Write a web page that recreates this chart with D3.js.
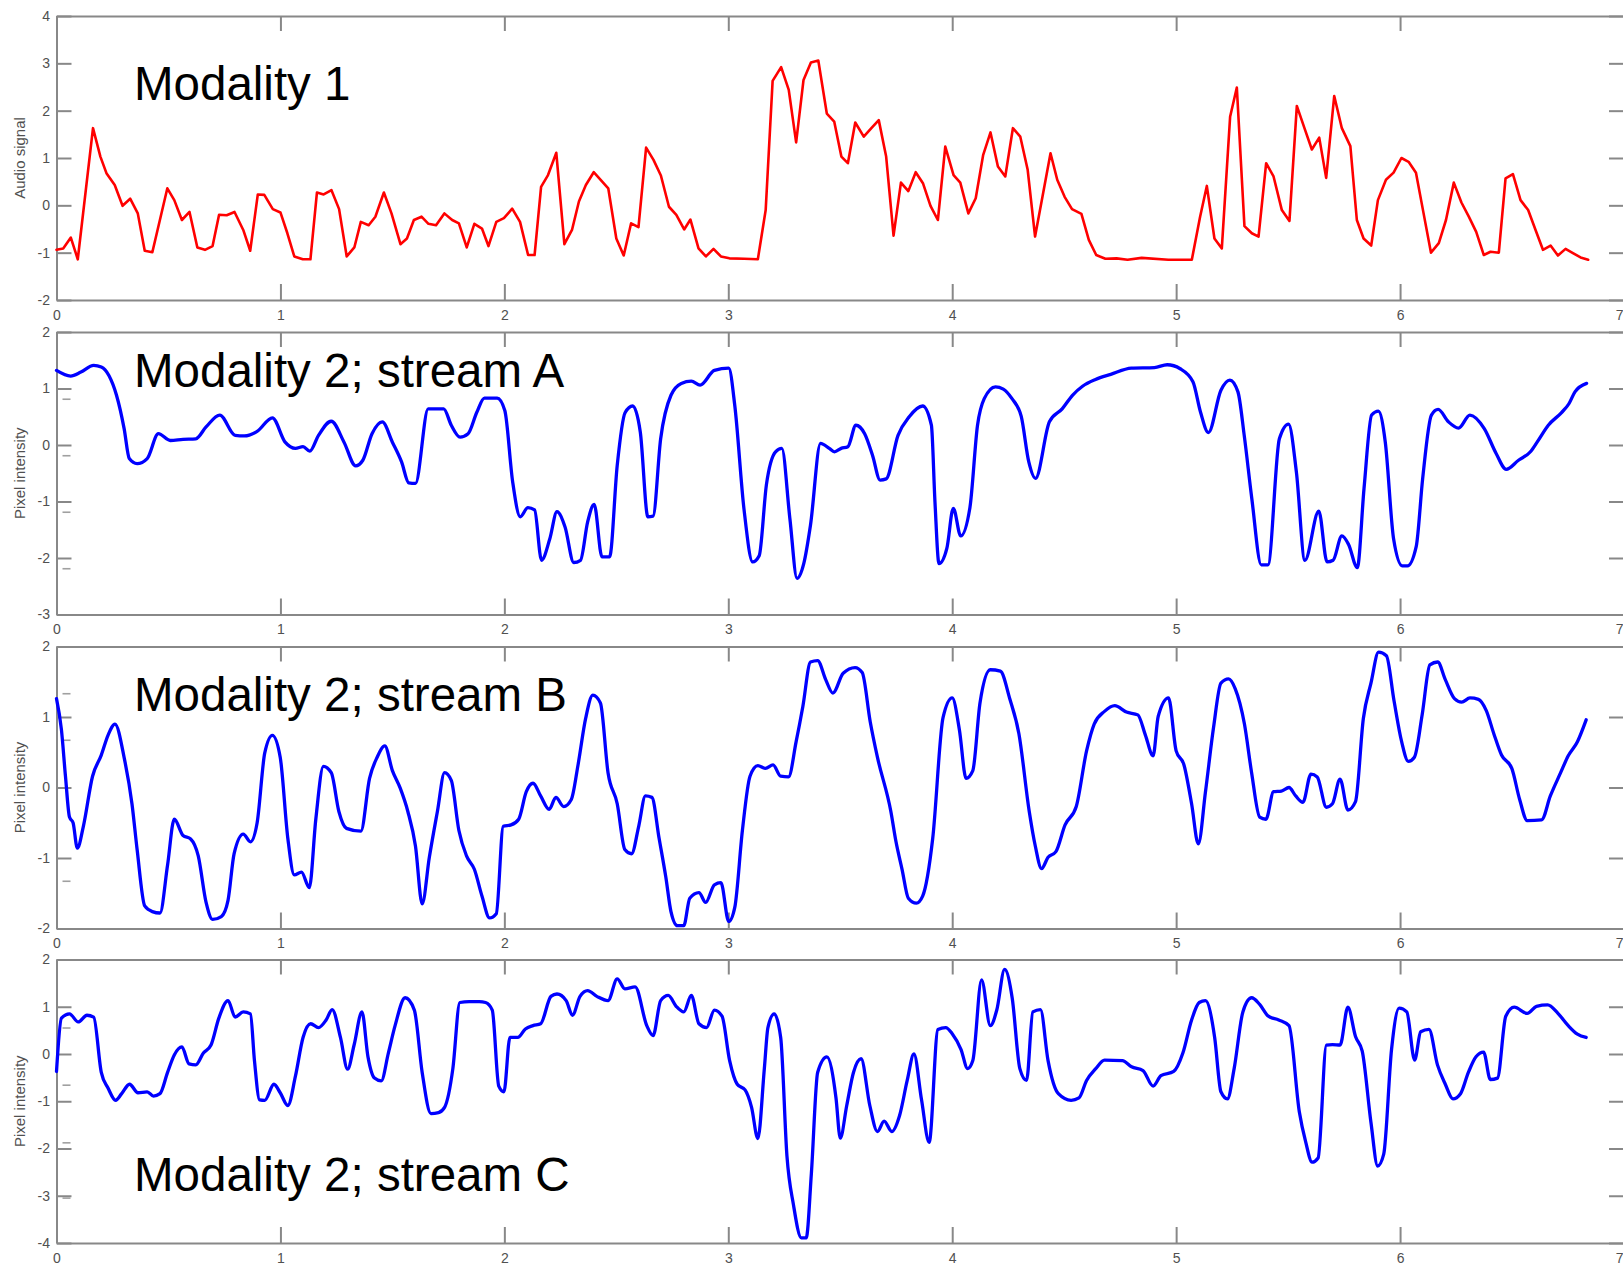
<!DOCTYPE html>
<html>
<head>
<meta charset="utf-8">
<script src="https://cdn.jsdelivr.net/npm/d3@7"></script>
<style>
  html, body { margin: 0; padding: 0; background: #ffffff; }
  svg { display: block; }
</style>
</head>
<body>
<svg id="chart" width="1623" height="1266"></svg>
<script>
// ---------------- DATA ----------------
const timeTicks = [0, 1, 2, 3, 4, 5, 6, 7];
const audioTicks = [-2, -1, 0, 1, 2, 3, 4];
const streamATicks = [-3, -2, -1, 0, 1, 2];
const streamBTicks = [-2, -1, 0, 1, 2];
const streamCTicks = [-4, -3, -2, -1, 0, 1, 2];

const panelTitles = ["Modality 1", "Modality 2; stream A", "Modality 2; stream B", "Modality 2; stream C"];
const axisTitles = ["Audio signal", "Pixel intensity", "Pixel intensity", "Pixel intensity"];

// faint stray marks next to the left axis (values)
const ghostA = [0.81, -0.19, -1.19, -2.19];
const ghostB = [1.33, 0.67, -1.33];
const ghostC = [0.55, -0.66, -1.88, -3.05];

// [time, value]
const audioSignal = [[0,-0.94],[0.03,-0.91],[0.064,-0.68],[0.095,-1.14],[0.163,1.63],[0.196,1.03],[0.223,0.68],[0.26,0.43],[0.295,-0.01],[0.329,0.14],[0.363,-0.17],[0.394,-0.96],[0.428,-0.99],[0.495,0.36],[0.526,0.11],[0.56,-0.31],[0.594,-0.14],[0.629,-0.89],[0.663,-0.94],[0.697,-0.86],[0.726,-0.2],[0.76,-0.21],[0.795,-0.14],[0.834,-0.52],[0.865,-0.96],[0.899,0.23],[0.928,0.22],[0.966,-0.08],[1.0,-0.15],[1.031,-0.59],[1.062,-1.08],[1.1,-1.14],[1.134,-1.14],[1.163,0.27],[1.193,0.23],[1.228,0.32],[1.262,-0.08],[1.296,-1.08],[1.33,-0.89],[1.359,-0.35],[1.394,-0.42],[1.424,-0.24],[1.462,0.27],[1.496,-0.17],[1.536,-0.82],[1.565,-0.7],[1.596,-0.31],[1.63,-0.24],[1.661,-0.39],[1.695,-0.42],[1.732,-0.17],[1.767,-0.31],[1.797,-0.38],[1.832,-0.89],[1.866,-0.39],[1.9,-0.49],[1.929,-0.86],[1.964,-0.35],[1.998,-0.27],[2.035,-0.07],[2.07,-0.35],[2.106,-1.05],[2.135,-1.05],[2.164,0.39],[2.195,0.64],[2.232,1.11],[2.268,-0.82],[2.302,-0.52],[2.333,0.08],[2.364,0.43],[2.399,0.7],[2.464,0.36],[2.5,-0.7],[2.533,-1.06],[2.566,-0.38],[2.599,-0.46],[2.633,1.22],[2.666,0.96],[2.699,0.63],[2.735,-0.03],[2.768,-0.2],[2.803,-0.51],[2.831,-0.3],[2.867,-0.91],[2.9,-1.08],[2.934,-0.92],[2.967,-1.08],[3.005,-1.12],[3.071,-1.13],[3.132,-1.14],[3.167,-0.1],[3.198,2.63],[3.236,2.92],[3.27,2.44],[3.303,1.33],[3.336,2.65],[3.369,3.02],[3.402,3.06],[3.44,1.94],[3.473,1.77],[3.505,1.03],[3.534,0.89],[3.567,1.75],[3.605,1.45],[3.639,1.63],[3.672,1.8],[3.705,1.03],[3.738,-0.64],[3.771,0.48],[3.804,0.3],[3.837,0.7],[3.87,0.46],[3.903,-0.01],[3.936,-0.31],[3.969,1.24],[4.006,0.64],[4.036,0.48],[4.072,-0.17],[4.105,0.15],[4.138,1.06],[4.171,1.54],[4.204,0.82],[4.237,0.61],[4.271,1.63],[4.304,1.45],[4.337,0.75],[4.37,-0.66],[4.403,0.18],[4.439,1.1],[4.469,0.54],[4.502,0.18],[4.535,-0.08],[4.577,-0.18],[4.61,-0.73],[4.643,-1.05],[4.684,-1.13],[4.734,-1.12],[4.783,-1.15],[4.846,-1.11],[4.965,-1.15],[5.07,-1.15],[5.107,-0.24],[5.137,0.41],[5.171,-0.7],[5.204,-0.91],[5.241,1.87],[5.271,2.49],[5.305,-0.44],[5.338,-0.59],[5.368,-0.66],[5.402,0.89],[5.435,0.61],[5.472,-0.1],[5.506,-0.33],[5.539,2.1],[5.573,1.63],[5.606,1.18],[5.639,1.43],[5.67,0.58],[5.706,2.31],[5.74,1.63],[5.778,1.25],[5.807,-0.31],[5.837,-0.7],[5.871,-0.85],[5.901,0.11],[5.937,0.54],[5.971,0.69],[6.006,1.0],[6.038,0.92],[6.071,0.69],[6.105,-0.17],[6.138,-1.0],[6.173,-0.8],[6.205,-0.31],[6.24,0.48],[6.274,0.06],[6.307,-0.24],[6.34,-0.56],[6.374,-1.05],[6.404,-0.98],[6.441,-1.0],[6.471,0.57],[6.504,0.66],[6.538,0.11],[6.572,-0.1],[6.605,-0.52],[6.638,-0.94],[6.672,-0.85],[6.705,-1.06],[6.739,-0.92],[6.772,-1.01],[6.806,-1.1],[6.84,-1.15]];

const streamA = [[0,1.32],[0.063,1.22],[0.109,1.29],[0.166,1.41],[0.2,1.38],[0.234,1.23],[0.268,0.88],[0.302,0.29],[0.325,-0.24],[0.36,-0.33],[0.405,-0.24],[0.455,0.2],[0.508,0.08],[0.565,0.1],[0.622,0.11],[0.668,0.32],[0.729,0.53],[0.798,0.17],[0.839,0.16],[0.896,0.24],[0.964,0.48],[1.021,0.05],[1.067,-0.06],[1.101,-0.03],[1.131,-0.11],[1.17,0.17],[1.227,0.42],[1.284,0.05],[1.336,-0.37],[1.368,-0.27],[1.409,0.2],[1.455,0.41],[1.5,0.05],[1.541,-0.3],[1.573,-0.67],[1.603,-0.68],[1.66,0.64],[1.729,0.64],[1.763,0.35],[1.802,0.14],[1.838,0.2],[1.877,0.58],[1.911,0.83],[1.968,0.83],[2.002,0.61],[2.037,-0.65],[2.071,-1.27],[2.105,-1.11],[2.135,-1.15],[2.166,-2.04],[2.203,-1.66],[2.235,-1.18],[2.271,-1.45],[2.31,-2.08],[2.34,-2.04],[2.372,-1.36],[2.401,-1.05],[2.436,-1.98],[2.47,-1.98],[2.504,-0.36],[2.539,0.57],[2.573,0.69],[2.607,0.23],[2.641,-1.27],[2.664,-1.26],[2.698,0.11],[2.744,0.88],[2.79,1.09],[2.835,1.13],[2.874,1.06],[2.938,1.32],[3.002,1.36],[3.029,0.7],[3.07,-1.13],[3.109,-2.07],[3.138,-1.96],[3.17,-0.71],[3.211,-0.12],[3.239,-0.06],[3.275,-1.3],[3.307,-2.36],[3.337,-2.1],[3.367,-1.42],[3.412,0.03],[3.451,-0.06],[3.474,-0.12],[3.504,-0.06],[3.534,-0.03],[3.57,0.35],[3.609,0.2],[3.644,-0.18],[3.678,-0.62],[3.705,-0.6],[3.758,0.17],[3.808,0.5],[3.868,0.69],[3.907,0.35],[3.923,-1.01],[3.941,-2.1],[3.976,-1.83],[4.005,-1.12],[4.038,-1.61],[4.079,-1.11],[4.113,0.35],[4.143,0.82],[4.193,1.03],[4.228,0.99],[4.267,0.82],[4.308,0.51],[4.342,-0.3],[4.372,-0.59],[4.434,0.41],[4.491,0.64],[4.537,0.88],[4.582,1.04],[4.64,1.16],[4.708,1.25],[4.8,1.36],[4.903,1.37],[4.96,1.42],[5.018,1.35],[5.075,1.12],[5.109,0.58],[5.144,0.22],[5.2,0.97],[5.24,1.15],[5.276,0.94],[5.304,0.17],[5.338,-0.95],[5.38,-2.12],[5.41,-2.12],[5.461,0.11],[5.502,0.37],[5.537,-0.48],[5.575,-2.04],[5.637,-1.17],[5.674,-2.07],[5.701,-2.04],[5.74,-1.61],[5.77,-1.76],[5.809,-2.17],[5.839,-0.77],[5.873,0.53],[5.903,0.6],[5.934,0.05],[5.971,-1.66],[6.01,-2.14],[6.033,-2.14],[6.072,-1.8],[6.101,-0.59],[6.14,0.53],[6.17,0.63],[6.216,0.41],[6.261,0.3],[6.312,0.53],[6.376,0.29],[6.429,-0.15],[6.474,-0.43],[6.529,-0.27],[6.582,-0.12],[6.612,0.05],[6.662,0.35],[6.72,0.57],[6.754,0.73],[6.781,0.94],[6.833,1.09]];

const streamB = [[0,1.26],[0.022,0.82],[0.04,0.16],[0.058,-0.42],[0.074,-0.5],[0.093,-0.86],[0.12,-0.55],[0.161,0.16],[0.2,0.46],[0.23,0.74],[0.261,0.9],[0.303,0.41],[0.337,-0.23],[0.36,-0.88],[0.394,-1.68],[0.428,-1.76],[0.462,-1.78],[0.496,-1.1],[0.526,-0.45],[0.565,-0.68],[0.599,-0.73],[0.633,-0.97],[0.668,-1.63],[0.697,-1.87],[0.736,-1.83],[0.766,-1.6],[0.793,-0.94],[0.834,-0.66],[0.866,-0.77],[0.896,-0.5],[0.93,0.49],[0.964,0.74],[0.999,0.43],[1.033,-0.72],[1.062,-1.24],[1.094,-1.2],[1.129,-1.42],[1.158,-0.45],[1.192,0.3],[1.227,0.21],[1.261,-0.34],[1.295,-0.58],[1.359,-0.62],[1.398,0.13],[1.432,0.43],[1.466,0.59],[1.5,0.24],[1.535,-0.01],[1.569,-0.34],[1.603,-0.83],[1.633,-1.65],[1.665,-0.99],[1.701,-0.34],[1.733,0.21],[1.763,0.1],[1.797,-0.61],[1.831,-0.97],[1.866,-1.16],[1.9,-1.54],[1.934,-1.85],[1.964,-1.79],[1.995,-0.55],[2.03,-0.53],[2.064,-0.45],[2.098,-0.06],[2.128,0.06],[2.162,-0.12],[2.2,-0.31],[2.23,-0.14],[2.265,-0.27],[2.299,-0.17],[2.329,0.32],[2.363,0.98],[2.395,1.31],[2.429,1.2],[2.463,0.21],[2.504,-0.23],[2.538,-0.88],[2.568,-0.94],[2.6,-0.55],[2.63,-0.12],[2.659,-0.14],[2.691,-0.72],[2.721,-1.27],[2.744,-1.76],[2.773,-1.96],[2.801,-1.96],[2.828,-1.57],[2.869,-1.49],[2.899,-1.63],[2.938,-1.38],[2.967,-1.35],[3.002,-1.9],[3.029,-1.7],[3.063,-0.61],[3.097,0.16],[3.132,0.31],[3.166,0.27],[3.2,0.32],[3.234,0.16],[3.269,0.15],[3.303,0.65],[3.333,1.15],[3.367,1.78],[3.399,1.8],[3.435,1.53],[3.467,1.34],[3.513,1.62],[3.566,1.7],[3.598,1.63],[3.634,0.93],[3.666,0.43],[3.726,-0.34],[3.749,-0.77],[3.776,-1.16],[3.804,-1.57],[3.84,-1.64],[3.868,-1.54],[3.913,-0.72],[3.959,0.99],[4.0,1.27],[4.032,0.82],[4.062,0.13],[4.092,0.24],[4.124,1.2],[4.17,1.67],[4.215,1.65],[4.257,1.26],[4.298,0.76],[4.344,-0.34],[4.371,-0.83],[4.399,-1.15],[4.428,-0.99],[4.463,-0.91],[4.504,-0.53],[4.554,-0.27],[4.6,0.52],[4.634,0.9],[4.68,1.08],[4.726,1.16],[4.778,1.07],[4.829,1.03],[4.863,0.74],[4.897,0.45],[4.92,1.01],[4.966,1.27],[5.0,0.52],[5.035,0.32],[5.069,-0.23],[5.099,-0.8],[5.131,-0.06],[5.167,0.85],[5.2,1.48],[5.234,1.54],[5.264,1.4],[5.305,0.9],[5.337,0.21],[5.373,-0.42],[5.401,-0.45],[5.435,-0.06],[5.47,-0.05],[5.504,0.0],[5.534,-0.12],[5.566,-0.21],[5.602,0.19],[5.63,0.15],[5.671,-0.28],[5.698,-0.23],[5.732,0.12],[5.767,-0.32],[5.801,-0.2],[5.836,0.98],[5.87,1.48],[5.904,1.92],[5.939,1.87],[5.973,1.23],[6.007,0.65],[6.037,0.37],[6.064,0.43],[6.099,1.04],[6.133,1.74],[6.168,1.78],[6.202,1.53],[6.243,1.26],[6.275,1.21],[6.312,1.27],[6.35,1.25],[6.385,1.09],[6.419,0.76],[6.453,0.46],[6.499,0.27],[6.534,-0.17],[6.568,-0.47],[6.632,-0.46],[6.671,-0.12],[6.717,0.21],[6.751,0.45],[6.792,0.65],[6.831,0.96]];

const streamC = [[0,-0.37],[0.022,0.76],[0.058,0.85],[0.097,0.68],[0.136,0.82],[0.166,0.78],[0.2,-0.39],[0.23,-0.72],[0.264,-0.98],[0.291,-0.84],[0.326,-0.64],[0.364,-0.82],[0.405,-0.8],[0.433,-0.89],[0.462,-0.84],[0.496,-0.39],[0.526,-0.02],[0.56,0.15],[0.592,-0.21],[0.622,-0.23],[0.656,0.02],[0.69,0.19],[0.725,0.76],[0.766,1.13],[0.798,0.78],[0.834,0.89],[0.866,0.85],[0.884,-0.14],[0.907,-0.97],[0.93,-0.98],[0.971,-0.64],[0.999,-0.82],[1.033,-1.09],[1.067,-0.47],[1.101,0.35],[1.135,0.64],[1.17,0.56],[1.204,0.72],[1.231,0.94],[1.268,0.35],[1.3,-0.32],[1.329,0.19],[1.364,0.89],[1.391,-0.06],[1.42,-0.51],[1.45,-0.57],[1.482,0.02],[1.512,0.6],[1.557,1.19],[1.598,0.93],[1.633,-0.39],[1.672,-1.26],[1.706,-1.24],[1.733,-1.13],[1.77,-0.31],[1.801,1.09],[1.843,1.11],[1.888,1.11],[1.916,1.09],[1.946,0.93],[1.975,-0.68],[1.998,-0.8],[2.025,0.35],[2.06,0.35],[2.094,0.53],[2.128,0.6],[2.162,0.64],[2.208,1.22],[2.235,1.27],[2.276,1.13],[2.304,0.82],[2.338,1.22],[2.372,1.34],[2.413,1.22],[2.463,1.13],[2.504,1.59],[2.538,1.38],[2.584,1.42],[2.636,0.6],[2.664,0.39],[2.698,1.13],[2.732,1.24],[2.767,1.01],[2.801,0.89],[2.835,1.24],[2.869,0.64],[2.903,0.56],[2.938,0.93],[2.972,0.8],[3.006,-0.14],[3.04,-0.64],[3.075,-0.76],[3.104,-1.13],[3.132,-1.79],[3.161,-0.31],[3.177,0.56],[3.205,0.85],[3.234,0.35],[3.262,-2.16],[3.291,-3.19],[3.326,-3.89],[3.348,-3.89],[3.371,-2.53],[3.399,-0.39],[3.44,-0.06],[3.481,-0.93],[3.5,-1.78],[3.529,-1.09],[3.559,-0.39],[3.593,-0.1],[3.632,-1.09],[3.666,-1.64],[3.696,-1.42],[3.73,-1.64],[3.765,-1.3],[3.799,-0.56],[3.829,0.0],[3.863,-0.97],[3.897,-1.87],[3.936,0.52],[3.971,0.56],[4.0,0.43],[4.039,0.1],[4.069,-0.31],[4.092,-0.14],[4.131,1.57],[4.17,0.6],[4.199,0.93],[4.234,1.79],[4.268,1.18],[4.302,-0.31],[4.332,-0.56],[4.36,0.89],[4.394,0.94],[4.428,-0.14],[4.474,-0.84],[4.531,-0.98],[4.566,-0.93],[4.6,-0.56],[4.641,-0.31],[4.68,-0.13],[4.76,-0.14],[4.801,-0.27],[4.852,-0.35],[4.897,-0.68],[4.932,-0.46],[4.989,-0.37],[5.03,0.02],[5.069,0.72],[5.103,1.09],[5.131,1.13],[5.172,0.35],[5.2,-0.8],[5.229,-0.95],[5.259,-0.31],[5.298,0.89],[5.337,1.19],[5.373,1.05],[5.412,0.8],[5.458,0.72],[5.504,0.6],[5.55,-1.22],[5.579,-1.87],[5.607,-2.29],[5.634,-2.2],[5.671,0.19],[5.698,0.2],[5.732,0.19],[5.767,0.99],[5.801,0.37],[5.831,0.06],[5.87,-1.45],[5.9,-2.37],[5.927,-2.12],[5.962,0.1],[5.996,0.97],[6.03,0.89],[6.065,-0.13],[6.092,0.47],[6.129,0.52],[6.167,-0.23],[6.202,-0.64],[6.236,-0.95],[6.27,-0.84],[6.305,-0.39],[6.339,-0.06],[6.373,0.04],[6.403,-0.54],[6.435,-0.51],[6.472,0.8],[6.51,0.99],[6.568,0.86],[6.609,1.01],[6.659,1.04],[6.705,0.86],[6.751,0.6],[6.792,0.42],[6.831,0.35]];

// ---------------- DRAWING ----------------
const FONT = "'Liberation Sans', Arial, Helvetica, sans-serif";
const AXIS_COLOR = "#888888";
const LABEL_COLOR = "#505050";

const svg = d3.select("#chart");
const xLeft = 56.5, xRight = 1624;
const x = d3.scaleLinear().domain([0, 7]).range([xLeft, xRight]);

const panels = [
  { data: audioSignal, domain: [-2, 4], ticks: audioTicks, top: 16, bottom: 300,
    color: "#ff0000", width: 2.6, curve: d3.curveLinear, ghost: [], titleY: 100 },
  { data: streamA, domain: [-3, 2], ticks: streamATicks, top: 332, bottom: 614.5,
    color: "#0000ff", width: 3.3, curve: d3.curveMonotoneX, ghost: ghostA, titleY: 387 },
  { data: streamB, domain: [-2, 2], ticks: streamBTicks, top: 646.5, bottom: 928.5,
    color: "#0000ff", width: 3.3, curve: d3.curveMonotoneX, ghost: ghostB, titleY: 711 },
  { data: streamC, domain: [-4, 2], ticks: streamCTicks, top: 959.5, bottom: 1243,
    color: "#0000ff", width: 3.3, curve: d3.curveMonotoneX, ghost: ghostC, titleY: 1190.5 }
];

function styleAxis(g) {
  g.select(".domain").attr("stroke", AXIS_COLOR).attr("stroke-width", 2);
  g.selectAll(".tick line").attr("stroke", AXIS_COLOR).attr("stroke-width", 2);
  g.selectAll(".tick text")
    .attr("font-family", FONT)
    .attr("font-size", 14)
    .attr("fill", LABEL_COLOR);
}

const fmt = d => String(d);

panels.forEach((p, i) => {
  const y = d3.scaleLinear().domain(p.domain).range([p.bottom, p.top]);
  const g = svg.append("g").attr("class", "panel panel-" + i);

  // axes (MATLAB style: ticks inside, box on)
  const bottomAxis = g.append("g").attr("transform", `translate(0,${p.bottom})`)
    .call(d3.axisBottom(x).tickValues(timeTicks).tickSize(-16).tickSizeOuter(0).tickPadding(10).tickFormat(fmt))
    .call(styleAxis);
  // last label sits at the very right edge: keep it inside the picture
  bottomAxis.selectAll(".tick text")
    .filter(d => d === timeTicks[timeTicks.length - 1])
    .attr("text-anchor", "end")
    .attr("dx", -1);

  g.append("g").attr("transform", `translate(0,${p.top})`)
    .call(d3.axisTop(x).tickValues(timeTicks).tickSize(-15).tickSizeOuter(0).tickFormat(""))
    .call(styleAxis);
  g.append("g").attr("transform", `translate(${xLeft},0)`)
    .call(d3.axisLeft(y).tickValues(p.ticks).tickSize(-15).tickSizeOuter(0).tickPadding(6.5).tickFormat(fmt))
    .call(styleAxis);
  g.append("g").attr("transform", `translate(${xRight},0)`)
    .call(d3.axisRight(y).tickValues(p.ticks).tickSize(-15).tickSizeOuter(0).tickFormat(""))
    .call(styleAxis);

  // faint stray marks
  g.selectAll("line.ghost").data(p.ghost).enter().append("line")
    .attr("class", "ghost")
    .attr("x1", xLeft + 6).attr("x2", xLeft + 14)
    .attr("y1", d => y(d)).attr("y2", d => y(d))
    .attr("stroke", "#a0a0a0").attr("stroke-width", 1.6);

  // axis title
  g.append("text")
    .attr("transform", `translate(19,${(p.top + p.bottom) / 2}) rotate(-90)`)
    .attr("text-anchor", "middle")
    .attr("dominant-baseline", "central")
    .attr("font-family", FONT)
    .attr("font-size", 15)
    .attr("fill", LABEL_COLOR)
    .text(axisTitles[i]);

  // data line
  const line = d3.line().x(d => x(d[0])).y(d => y(d[1])).curve(p.curve);
  g.append("path")
    .datum(p.data)
    .attr("d", line)
    .attr("fill", "none")
    .attr("stroke", p.color)
    .attr("stroke-width", p.width)
    .attr("stroke-linejoin", "round")
    .attr("stroke-linecap", "round");

  // panel title
  g.append("text")
    .attr("x", 134)
    .attr("y", p.titleY)
    .attr("font-family", FONT)
    .attr("font-size", 47.5)
    .attr("fill", "#000000")
    .text(panelTitles[i]);
});
</script>
</body>
</html>
